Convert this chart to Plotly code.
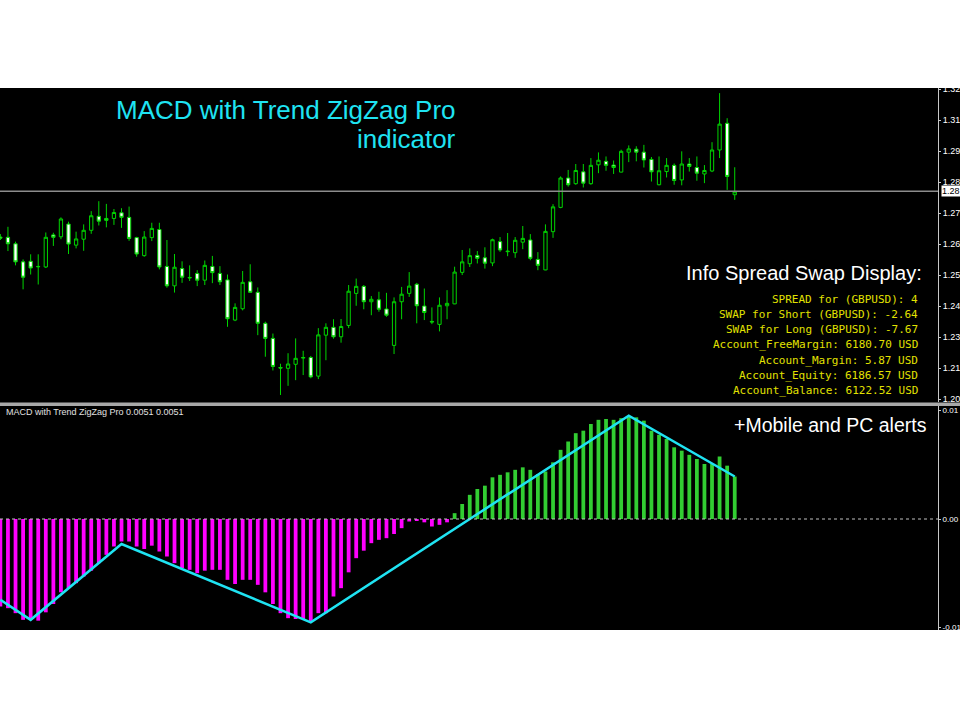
import plotly.graph_objs as go

# candles (one per bar, oldest first)
bars = list(range(98))
open_ = [1.2676, 1.2675, 1.2651, 1.2584, 1.2586, 1.2567, 1.2565, 1.2684, 1.2677, 1.2724,
         1.2646, 1.2668, 1.2701, 1.2753, 1.2745, 1.2745, 1.2766, 1.2749, 1.2674, 1.2607,
         1.2674, 1.2704, 1.2567, 1.2495, 1.2559, 1.2524, 1.2541, 1.2516, 1.2567, 1.2541,
         1.2517, 1.2368, 1.2410, 1.2510, 1.2471, 1.2356, 1.2300, 1.2192, 1.2189, 1.2204,
         1.2227, 1.2229, 1.2160, 1.2312, 1.2341, 1.2306, 1.2348, 1.2467, 1.2493, 1.2436,
         1.2443, 1.2409, 1.2274, 1.2436, 1.2467, 1.2501, 1.2420, 1.2363, 1.2352, 1.2421,
         1.2428, 1.2545, 1.2577, 1.2608, 1.2599, 1.2580, 1.2659, 1.2624, 1.2618, 1.2657,
         1.2665, 1.2593, 1.2554, 1.2696, 1.2786, 1.2895, 1.2874, 1.2918, 1.2874, 1.2944,
         1.2957, 1.2943, 1.2917, 1.2991, 1.3002, 1.2991, 1.2964, 1.2870, 1.2919, 1.2942,
         1.2888, 1.2947, 1.2934, 1.2910, 1.2921, 1.2999, 1.3098, 1.2833]
high = [1.2687, 1.2714, 1.2659, 1.2593, 1.2612, 1.2612, 1.2693, 1.2692, 1.2749, 1.2733,
        1.2696, 1.2723, 1.2772, 1.2809, 1.2799, 1.2780, 1.2783, 1.2789, 1.2677, 1.2698,
        1.2729, 1.2729, 1.2665, 1.2613, 1.2586, 1.2571, 1.2553, 1.2589, 1.2606, 1.2568,
        1.2537, 1.2430, 1.2550, 1.2575, 1.2489, 1.2362, 1.2318, 1.2206, 1.2245, 1.2300,
        1.2254, 1.2235, 1.2338, 1.2356, 1.2371, 1.2372, 1.2498, 1.2522, 1.2498, 1.2457,
        1.2473, 1.2469, 1.2452, 1.2491, 1.2546, 1.2506, 1.2485, 1.2415, 1.2452, 1.2479,
        1.2566, 1.2628, 1.2634, 1.2624, 1.2638, 1.2670, 1.2676, 1.2691, 1.2676, 1.2717,
        1.2687, 1.2620, 1.2723, 1.2798, 1.2901, 1.2925, 1.2947, 1.2947, 1.2969, 1.2990,
        1.2975, 1.2960, 1.3000, 1.3016, 1.3013, 1.3018, 1.2973, 1.2975, 1.2969, 1.2949,
        1.2994, 1.2969, 1.2975, 1.2943, 1.3028, 1.3210, 1.3117, 1.2935]
low = [1.2665, 1.2624, 1.2571, 1.2482, 1.2537, 1.2500, 1.2561, 1.2643, 1.2668, 1.2613,
       1.2634, 1.2625, 1.2688, 1.2719, 1.2712, 1.2721, 1.2710, 1.2662, 1.2603, 1.2603,
       1.2661, 1.2556, 1.2488, 1.2470, 1.2506, 1.2513, 1.2494, 1.2498, 1.2505, 1.2498,
       1.2343, 1.2364, 1.2404, 1.2469, 1.2312, 1.2232, 1.2181, 1.2090, 1.2124, 1.2145,
       1.2164, 1.2152, 1.2149, 1.2219, 1.2299, 1.2284, 1.2338, 1.2421, 1.2408, 1.2386,
       1.2399, 1.2380, 1.2242, 1.2371, 1.2454, 1.2356, 1.2368, 1.2353, 1.2326, 1.2371,
       1.2427, 1.2535, 1.2565, 1.2578, 1.2559, 1.2568, 1.2621, 1.2605, 1.2599, 1.2631,
       1.2590, 1.2553, 1.2553, 1.2673, 1.2783, 1.2863, 1.2870, 1.2860, 1.2870, 1.2913,
       1.2922, 1.2910, 1.2916, 1.2954, 1.2957, 1.2934, 1.2882, 1.2868, 1.2897, 1.2870,
       1.2868, 1.2919, 1.2885, 1.2876, 1.2917, 1.2969, 1.2851, 1.2814]
close = [1.2672, 1.2651, 1.2584, 1.2527, 1.2561, 1.2566, 1.2675, 1.2675, 1.2743, 1.2650,
         1.2669, 1.2701, 1.2755, 1.2735, 1.2738, 1.2767, 1.2749, 1.2671, 1.2613, 1.2676,
         1.2708, 1.2565, 1.2495, 1.2564, 1.2527, 1.2526, 1.2516, 1.2571, 1.2544, 1.2510,
         1.2373, 1.2415, 1.2508, 1.2471, 1.2356, 1.2300, 1.2196, 1.2190, 1.2205, 1.2226,
         1.2229, 1.2157, 1.2313, 1.2341, 1.2306, 1.2344, 1.2475, 1.2493, 1.2436, 1.2445,
         1.2408, 1.2386, 1.2436, 1.2464, 1.2494, 1.2421, 1.2396, 1.2361, 1.2423, 1.2430,
         1.2546, 1.2584, 1.2607, 1.2597, 1.2579, 1.2666, 1.2628, 1.2622, 1.2664, 1.2671,
         1.2597, 1.2571, 1.2697, 1.2788, 1.2895, 1.2870, 1.2923, 1.2876, 1.2942, 1.2961,
         1.2942, 1.2934, 1.2994, 1.3003, 1.2991, 1.2962, 1.2918, 1.2922, 1.2942, 1.2886,
         1.2947, 1.2938, 1.2913, 1.2923, 1.2999, 1.3095, 1.2901, 1.2844]
last_price = 1.2846
last_price_label = '1.28'

# MACD histogram and zigzag
macd = [-0.0105, -0.0107, -0.0113, -0.0121, -0.0121, -0.0122, -0.0112, -0.0102, -0.0088, -0.0083,
        -0.0077, -0.0069, -0.0062, -0.0053, -0.0043, -0.0033, -0.0027, -0.0027, -0.0033, -0.0036,
        -0.0032, -0.0039, -0.0045, -0.0053, -0.0059, -0.0061, -0.0065, -0.0062, -0.0061, -0.0061,
        -0.0073, -0.0078, -0.0073, -0.0073, -0.0079, -0.0088, -0.0102, -0.0113, -0.0119, -0.0120,
        -0.0120, -0.0123, -0.0113, -0.0113, -0.0093, -0.0083, -0.0064, -0.0047, -0.0038, -0.0029,
        -0.0025, -0.0023, -0.0018, -0.0011, -0.0003, -0.0002, -0.0004, -0.0009, -0.0007, -0.0004,
        0.0007, 0.0018, 0.0029, 0.0036, 0.0040, 0.0050, 0.0053, 0.0056, 0.0059, 0.0062,
        0.0059, 0.0054, 0.0057, 0.0068, 0.0083, 0.0093, 0.0103, 0.0106, 0.0114, 0.0119,
        0.0120, 0.0119, 0.0121, 0.0123, 0.0122, 0.0118, 0.0106, 0.0101, 0.0096, 0.0086,
        0.0082, 0.0077, 0.0072, 0.0066, 0.0066, 0.0075, 0.0064, 0.0051]
zigzag_bar = [0, 4, 16, 41, 83, 97]
zigzag_val = [-0.0097, -0.0121, -0.0030, -0.0124, 0.0124, 0.0051]

# the price scale is cut at the window edge, only the first digits show
price_ticks = [1.2075, 1.2190, 1.2305, 1.2420, 1.2535, 1.2650, 1.2765, 1.2880, 1.2995, 1.3110, 1.3225]
price_labels = ['1.20', '1.21', '1.23', '1.24', '1.25', '1.26', '1.27', '1.28', '1.29', '1.31', '1.32']
macd_ticks = [0.0130, 0.0, -0.0130]
macd_labels = ['0.01', '0.00', '-0.01']

info_lines = ['SPREAD for (GBPUSD): 4',
              'SWAP for Short (GBPUSD): -2.64',
              'SWAP for Long (GBPUSD): -7.67',
              'Account_FreeMargin: 6180.70 USD',
              'Account_Margin: 5.87 USD',
              'Account_Equity: 6186.57 USD',
              'Account_Balance: 6122.52 USD']

GREEN = '#00d400'
CYAN = '#1fe3f2'
AXIS = '#c8c8c8'

trace0 = go.Candlestick(x=bars, open=open_, high=high, low=low, close=close,
                        increasing=dict(line=dict(color=GREEN, width=1), fillcolor='black'),
                        decreasing=dict(line=dict(color=GREEN, width=1), fillcolor='white'),
                        whiskerwidth=0, xaxis='x', yaxis='y', showlegend=False)

bar_colors = ['#32cd32' if v > 0 else '#ff00ff' for v in macd]
trace1 = go.Bar(x=bars, y=macd, marker=dict(color=bar_colors, line=dict(width=0)),
                xaxis='x2', yaxis='y2', showlegend=False)

trace2 = go.Scatter(x=zigzag_bar, y=zigzag_val, mode='lines',
                    line=dict(color=CYAN, width=2.5), xaxis='x2', yaxis='y2', showlegend=False)

# plot area is 938 x 542 px, top pane 88-402, bottom pane 406-630
top_dom = [(630 - 402) / 542, 1]
bot_dom = [0, (630 - 406) / 542]
right_edge = 960 / 938

shapes = [
    dict(type='rect', xref='paper', yref='paper', x0=0, x1=right_edge, y0=0, y1=1,
         fillcolor='black', line=dict(width=0), layer='below'),
    dict(type='rect', xref='paper', yref='paper', x0=0, x1=right_edge,
         y0=(630 - 406) / 542, y1=(630 - 402.5) / 542,
         fillcolor='#a8a8a8', line=dict(width=0)),
    dict(type='line', xref='paper', yref='y', x0=0, x1=1, y0=last_price, y1=last_price,
         line=dict(color='#8c8c8c', width=1.5)),
    dict(type='line', xref='paper', yref='y2', x0=0, x1=1, y0=0, y1=0,
         line=dict(color='#c0c0c0', width=1, dash='3px,3px')),
]

annotations = [
    dict(text='MACD with Trend ZigZag Pro', xref='paper', yref='paper', x=458 / 938, y=(630 - 110) / 542,
         xanchor='right', yanchor='middle', showarrow=False,
         font=dict(family='Liberation Sans', size=26, color=CYAN)),
    dict(text='indicator', xref='paper', yref='paper', x=458 / 938, y=(630 - 139) / 542,
         xanchor='right', yanchor='middle', showarrow=False,
         font=dict(family='Liberation Sans', size=26, color=CYAN)),
    dict(text='Info Spread Swap Display:', xref='paper', yref='paper', x=924 / 938, y=(630 - 273) / 542,
         xanchor='right', yanchor='middle', showarrow=False,
         font=dict(family='Liberation Sans', size=20, color='white')),
    dict(text='+Mobile and PC alerts', xref='paper', yref='paper', x=929 / 938, y=(630 - 425) / 542,
         xanchor='right', yanchor='middle', showarrow=False,
         font=dict(family='Liberation Sans', size=19.5, color='white')),
    dict(text='MACD with Trend ZigZag Pro %.4f %.4f' % (macd[-1], zigzag_val[-1]),
         xref='paper', yref='paper', x=4 / 938, y=(630 - 412) / 542,
         xanchor='left', yanchor='middle', showarrow=False,
         font=dict(family='Liberation Sans', size=9, color='#e0e0e0')),
    dict(text=last_price_label, xref='paper', yref='y', x=941 / 938, y=last_price,
         xanchor='left', yanchor='middle', showarrow=False, bgcolor='white', borderpad=0,
         font=dict(family='Liberation Sans', size=9, color='black')),
]
for k, line in enumerate(info_lines):
    annotations.append(dict(text=line, xref='paper', yref='paper', x=920 / 938,
                            y=(630 - (299 + 15.33 * k)) / 542,
                            xanchor='right', yanchor='middle', showarrow=False,
                            font=dict(family='DejaVu Sans Mono', size=11, color='#e2e200')))

layout = go.Layout(
    width=960, height=720,
    margin=dict(l=0, r=22, t=88, b=90, autoexpand=False),
    paper_bgcolor='white', plot_bgcolor='black',
    showlegend=False, bargap=0.5, boxgap=0.38,
    xaxis=dict(domain=[0, 1], range=[-0.05, 123.85], anchor='y', visible=False,
               rangeslider=dict(visible=False)),
    xaxis2=dict(domain=[0, 1], matches='x', anchor='y2', visible=False),
    yaxis=dict(domain=top_dom, range=[1.2064, 1.3229], side='right', anchor='x',
               automargin=False, showgrid=False, zeroline=False, showline=True,
               linecolor=AXIS, linewidth=1,
               tickvals=price_ticks, ticktext=price_labels, ticks='outside', ticklen=2,
               tickcolor=AXIS, tickfont=dict(family='Liberation Sans', size=9, color='white')),
    yaxis2=dict(domain=bot_dom, range=[-0.01332, 0.01356], side='right', anchor='x2',
                automargin=False, showgrid=False, zeroline=False, showline=True,
                linecolor=AXIS, linewidth=1,
                tickvals=macd_ticks, ticktext=macd_labels, ticks='outside', ticklen=2,
                tickcolor=AXIS, tickfont=dict(family='Liberation Sans', size=8, color='white')),
    shapes=shapes, annotations=annotations)

fig = go.Figure(data=[trace0, trace1, trace2], layout=layout)
fig.write_html("out.html", config={'displayModeBar': False},
               post_script="document.body.style.margin='0';")
